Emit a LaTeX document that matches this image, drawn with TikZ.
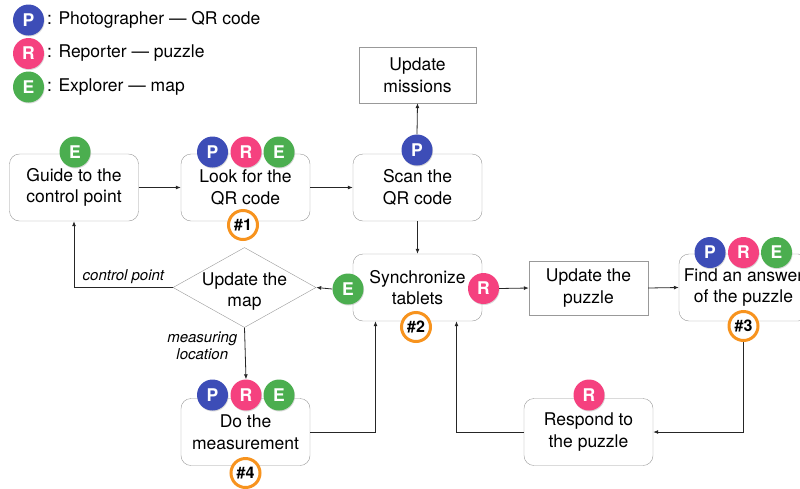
\documentclass[tikz,border=0pt]{standalone}
\usepackage{fontspec}
\setmainfont{TeX Gyre Heros}
\usetikzlibrary{arrows.meta,shapes.geometric,calc,shadows}
\definecolor{colP}{HTML}{3D4DB7}
\definecolor{colR}{HTML}{F5417F}
\definecolor{colE}{HTML}{4BAE4F}
\definecolor{colNum}{HTML}{F7931E}
\definecolor{colLine}{HTML}{999999}
\tikzset{
  task/.style={draw=colLine, rounded corners=10pt, fill=white, align=center,
    minimum width=129pt, minimum height=67pt},
  plainbox/.style={draw=colLine, fill=white, align=center},
  decision/.style={draw=colLine, diamond, fill=white, inner sep=0pt,
    minimum width=143pt, minimum height=80pt},
  badge/.style={circle, minimum size=31pt, inner sep=0pt, text=white,
    font=\fontsize{17.5}{17.5}\selectfont\bfseries,
    drop shadow={opacity=.3, shadow xshift=.6pt, shadow yshift=-1pt}},
  pbadge/.style={badge, fill=colP},
  rbadge/.style={badge, fill=colR},
  ebadge/.style={badge, fill=colE},
  numbadge/.style={circle, draw=colNum, line width=3pt, fill=white,
    minimum size=29pt, inner sep=0pt, font=\fontsize{16}{16}\selectfont\bfseries},
  flow/.style={draw=black!85, line width=.8pt, -{Latex[length=5pt,width=4pt]}},
  note/.style={font=\fontsize{15}{17.5}\selectfont\itshape}
}
\begin{document}
\begin{tikzpicture}[x=1pt,y=-1pt,font=\fontsize{17.5}{21.5}\selectfont]
\clip (0,0) rectangle (800,488);
% legend
\node[pbadge] (legP) at (28.5,20) {P};
\node[anchor=west,inner sep=0pt] (legPtext) at (47,20) {: Photographer --- QR code};
\node[rbadge] (legR) at (28.5,53.5) {R};
\node[anchor=west,inner sep=0pt] (legRtext) at (47,53.5) {: Reporter --- puzzle};
\node[ebadge] (legE) at (28.5,87) {E};
\node[anchor=west,inner sep=0pt] (legEtext) at (47,87) {: Explorer --- map};

% steps
\node[task] (guide) at (74,187.5) {Guide to the\\control point};
\node[task] (look) at (245.5,187.5) {Look for the\\QR code};
\node[task] (scan) at (417.5,187.5) {Scan the\\QR code};
\node[plainbox, minimum width=117pt, minimum height=56pt] (missions) at (417.5,75) {Update\\missions};
\node[task] (sync) at (417.5,287.5) {Synchronize\\tablets};
\node[plainbox, minimum width=119pt, minimum height=54pt] (updpuzzle) at (588.5,288) {Update the\\puzzle};
\node[task] (find) at (743.5,287.5) {Find an answer\\of the puzzle};
\node[decision, label={[align=center,yshift=-4pt]center:Update the\\map}] (map) at (244.5,287.5) {};
\node[task] (measure) at (245.5,432) {Do the\\measurement};
\node[task] (respond) at (588.5,432) {Respond to\\the puzzle};

% roles
\node[ebadge] (guideE) at (75,152) {E};
\node[pbadge] (lookP) at (212.5,152) {P};
\node[rbadge] (lookR) at (246,152) {R};
\node[ebadge] (lookE) at (279,152) {E};
\node[pbadge] (scanP) at (417,150) {P};
\node[ebadge] (syncE) at (348,289) {E};
\node[rbadge] (syncR) at (483.5,288.5) {R};
\node[pbadge] (findP) at (710,252.5) {P};
\node[rbadge] (findR) at (743.5,252.5) {R};
\node[ebadge] (findE) at (776.5,252.5) {E};
\node[pbadge] (measP) at (212.5,395) {P};
\node[rbadge] (measR) at (246,395) {R};
\node[ebadge] (measE) at (279,395) {E};
\node[rbadge] (respR) at (589,395) {R};

% numbers
\node[numbadge] (lookNo) at (243,225) {\#1};
\node[numbadge] (syncNo) at (416,327) {\#2};
\node[numbadge] (findNo) at (743.5,326) {\#3};
\node[numbadge] (measNo) at (245.5,473) {\#4};

% connectors
\draw[flow] (guide.east) -- (look.west);
\draw[flow] (look.east) -- (scan.west);
\draw[flow] (scanP.north) -- (missions.south);
\draw[flow] (scan.south) -- (sync.north);
\draw[flow] (syncE.west) -- (map.east);
\draw[flow] (map.west) -| node[pos=.25, above, note] (cplabel) {control point} (guide.south);
\draw[flow] (map.south) -- node[pos=.35, left, xshift=-4pt, note, align=center] (mllabel) {measuring\\location} (measR.north);
\draw[flow] (measure.east) -| ($(sync.south)+(-42,0)$);
\draw[flow] (respond.west) -| ($(sync.south)+(39,0)$);
\draw[flow] (syncR.east) -- (updpuzzle.west);
\draw[flow] (updpuzzle.east) -- (find.west);
\draw[flow] (findNo.south) |- (respond.east);
\end{tikzpicture}
\end{document}
